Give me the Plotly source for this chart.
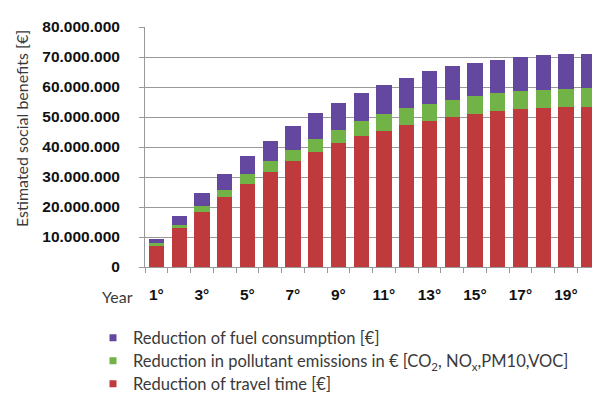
import plotly.graph_objects as go

years = list(range(1, 21))
tick_years = [y for y in years if y % 2 == 1]
tick_labels = [f"{y}°" for y in tick_years]

# segment values (millions of €)
travel_time = [7.0, 12.9, 18.4, 23.2, 27.8, 31.8, 35.3, 38.3, 41.2, 43.6,
               45.4, 47.4, 48.7, 50.0, 50.9, 51.9, 52.6, 52.9, 53.2, 53.2]
emissions = [0.9, 1.2, 1.9, 2.6, 3.3, 3.4, 3.8, 4.5, 4.5, 5.0,
             5.5, 5.5, 5.7, 5.8, 6.2, 6.1, 6.1, 6.1, 6.0, 6.5]
fuel = [1.5, 3.0, 4.3, 5.3, 5.8, 6.9, 7.9, 8.4, 9.1, 9.4,
        9.8, 10.0, 10.8, 11.1, 11.0, 11.1, 11.3, 11.8, 11.9, 11.4]

M = 1_000_000
red, green, purple = "#BF3A3C", "#71B346", "#6448A0"
txt = "#3a3a3a"
L, R, T, B, W, H = 137, 8, 19, 134, 600, 393
pw, ph = W - L - R, H - T - B
tickfont = dict(family="Liberation Sans", size=15.5, color="#111111", weight="bold")

def py(pix):
    return (T + ph - pix) / ph

fig = go.Figure()
series = [
    ("Reduction of travel time [€]", travel_time, red, "legend3", 376),
    ("Reduction in pollutant emissions in € [CO<sub>2</sub>, NO<sub>x</sub>,PM10,VOC]", emissions, green, "legend2", 353),
    ("Reduction of fuel consumption [€]", fuel, purple, "legend", 330),
]
for name, vals, col, lg, ypix in series:
    fig.add_trace(go.Bar(x=years, y=[v * M for v in vals], marker=dict(color=col, line=dict(width=0)),
                         name=name, showlegend=False))
legends = {}
for name, vals, col, lg, ypix in series:
    fig.add_trace(go.Scatter(x=[None], y=[None], mode="markers", name=name,
                             marker=dict(symbol="square", size=7, color=col),
                             legend=lg, showlegend=True))
    legends[lg] = dict(x=(85 - L) / pw, xanchor="left", y=py(ypix), yanchor="middle",
                       font=dict(family="Lato", size=16.5, color=txt),
                       bgcolor="rgba(0,0,0,0)")

fig.update_layout(
    width=W, height=H,
    margin=dict(l=L, r=R, t=T, b=B, autoexpand=False),
    barmode="stack", bargap=0.33,
    plot_bgcolor="white", paper_bgcolor="white",
    separators=",.",
    font=dict(family="Lato", color=txt),
    **legends,
    xaxis=dict(range=[0.5, 20.5], tickvals=tick_years, ticktext=tick_labels, tickangle=0,
               ticks="", showline=True, linecolor="#999999", linewidth=1,
               minor=dict(tick0=0.5, dtick=1, ticks="outside", ticklen=5, tickcolor="#999999", showgrid=False),
               tickfont=tickfont, ticklabelstandoff=13, showgrid=False, zeroline=False),
    yaxis=dict(range=[0, 80 * M], dtick=10 * M, tickformat=",.0f",
               ticks="outside", ticklen=5, tickcolor="#999999",
               showline=True, linecolor="#999999", linewidth=1,
               gridcolor="#999999", gridwidth=1, zeroline=False,
               tickfont=tickfont, ticklabelstandoff=16),
    annotations=[
        dict(text="Year", x=(109 - L) / pw, y=py(288), xref="paper", yref="paper",
             xanchor="center", yanchor="middle",
             showarrow=False, font=dict(family="Lato", size=16, color=txt)),
        dict(text="Estimated social benefits [€]", textangle=-90,
             x=(13 - L) / pw, y=py(121),
             xanchor="center", yanchor="middle",
             xref="paper", yref="paper", showarrow=False,
             font=dict(family="Lato", size=16, color=txt)),
    ],
)

fig.write_html("out.html")
